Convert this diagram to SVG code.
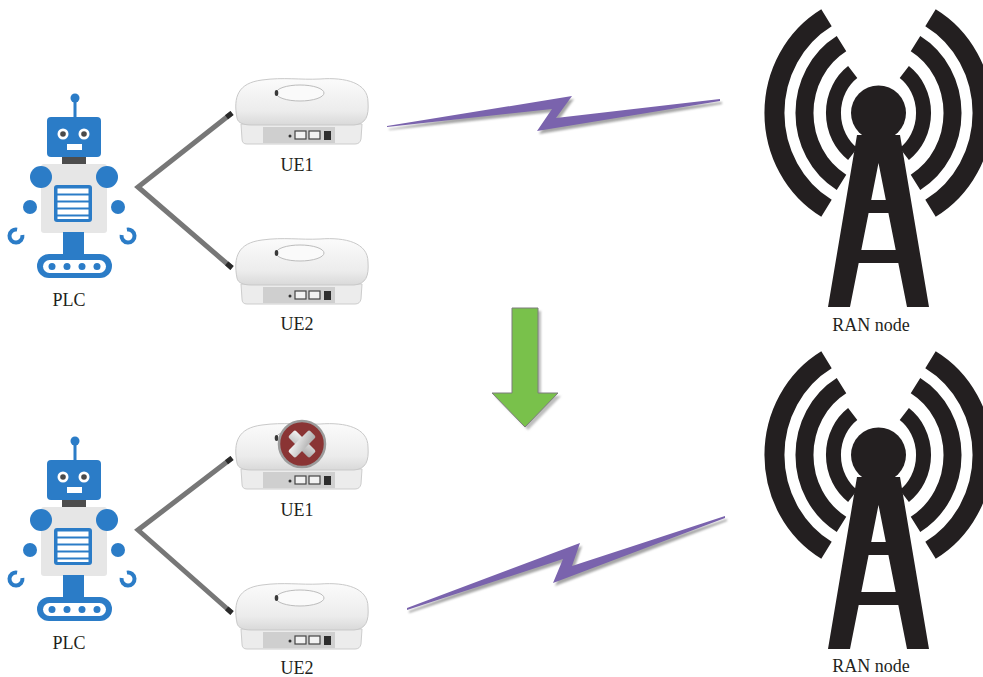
<svg xmlns="http://www.w3.org/2000/svg" width="983" height="677" viewBox="0 0 983 677">
  <style>
    .label { font-family: "Liberation Serif", "Times New Roman", serif; font-size: 18px; fill: #231f20; text-anchor: middle; }
    .blue { fill: #2b7cc7; }
    .hand { fill: none; stroke: #2b7cc7; stroke-width: 4; }
    .wire { fill: none; stroke: #777777; stroke-width: 5; stroke-linejoin: miter; }
    .wire-tip { stroke: #2a2a2a; stroke-width: 5; }
    .bolt { fill: #7a63ad; }
    .bolt-shadow { fill: #a6a6a6; filter: url(#soft); }
    .tower { fill: #231f20; }
    .wave { fill: none; stroke: #231f20; stroke-linecap: butt; }
  </style>
  <defs>
    <filter id="soft" x="-10%" y="-50%" width="120%" height="200%">
      <feGaussianBlur stdDeviation="1"/>
    </filter>
    <linearGradient id="shellGrad" x1="0" y1="0" x2="0" y2="1">
      <stop offset="0" stop-color="#fbfbfb"/>
      <stop offset="0.7" stop-color="#ececec"/>
      <stop offset="1" stop-color="#d9d9d9"/>
    </linearGradient>
    <linearGradient id="silver" x1="0" y1="0" x2="1" y2="1">
      <stop offset="0" stop-color="#f4f4f4"/>
      <stop offset="1" stop-color="#a9a9a9"/>
    </linearGradient>

    <!-- robot (PLC) drawn in the upper row's coordinates -->
    <g id="robot">
      <!-- antenna -->
      <rect class="blue" x="73.5" y="100" width="3" height="18"/>
      <circle class="blue" cx="75" cy="98" r="4.5"/>
      <!-- head -->
      <rect class="blue" x="47" y="117" width="54" height="40" rx="4"/>
      <circle cx="63" cy="134" r="5.5" fill="#ffffff"/>
      <circle cx="84" cy="134" r="5.5" fill="#ffffff"/>
      <circle cx="63" cy="134" r="2.8" fill="#4a4a4a"/>
      <circle cx="84" cy="134" r="2.8" fill="#4a4a4a"/>
      <rect x="67" y="144" width="15" height="6" fill="#ffffff"/>
      <!-- neck -->
      <rect x="62" y="157" width="24" height="8" fill="#4d4d4d"/>
      <!-- torso -->
      <rect x="41" y="164" width="66" height="69" rx="3" fill="#e6e6e6"/>
      <circle class="blue" cx="41" cy="177" r="11"/>
      <circle class="blue" cx="107" cy="177" r="11"/>
      <circle class="blue" cx="30" cy="207" r="7"/>
      <circle class="blue" cx="118" cy="207" r="7"/>
      <!-- hands: open rings facing inwards -->
      <path class="hand" d="M22.4,235 A6.5,6.5 0 1 1 17.1,229.6"/>
      <path class="hand" d="M121.6,235 A6.5,6.5 0 1 0 126.9,229.6"/>
      <!-- chest panel -->
      <rect class="blue" x="54" y="185" width="38" height="37" rx="3"/>
      <rect x="57.5" y="188.5" width="31" height="5" fill="#ffffff"/>
      <rect x="57.5" y="195.5" width="31" height="5" fill="#ffffff"/>
      <rect x="57.5" y="202.5" width="31" height="5" fill="#ffffff"/>
      <rect x="57.5" y="209.5" width="31" height="5" fill="#ffffff"/>
      <rect x="57.5" y="216.5" width="31" height="2.5" fill="#ffffff"/>
      <!-- leg and track -->
      <rect class="blue" x="63" y="232" width="21" height="24"/>
      <rect class="blue" x="37" y="254" width="75" height="24" rx="12"/>
      <rect x="43" y="260" width="63" height="13" rx="6.5" fill="#ffffff"/>
      <circle class="blue" cx="52" cy="266.5" r="3.5"/>
      <circle class="blue" cx="67" cy="266.5" r="3.5"/>
      <circle class="blue" cx="82" cy="266.5" r="3.5"/>
      <circle class="blue" cx="97" cy="266.5" r="3.5"/>
    </g>

    <!-- user equipment box, drawn at the upper UE1 position -->
    <g id="ue">
      <path d="M241,124 L362,124 L361,139 Q360,144 355,144 L247,144 Q242,144 242,139 Z" fill="#ececec" stroke="#cdcdcd" stroke-width="1"/>
      <rect x="263" y="127" width="72" height="16" fill="#cfcfcf"/>
      <circle cx="290" cy="136" r="1.5" fill="#333333"/>
      <rect x="295" y="131" width="11" height="8" fill="#f2f2f2" stroke="#444444" stroke-width="1.2"/>
      <rect x="309" y="131" width="11" height="8" fill="#f2f2f2" stroke="#444444" stroke-width="1.2"/>
      <rect x="324" y="131" width="7" height="9" fill="#2d2d2d"/>
      <path d="M237,118 C233,97 238,83 262,80 C284,77 300,80 320,79 C346,77 368,83 368,102 C369,116 366,124 354,125 L252,125 C243,125 238,123 237,118 Z" fill="url(#shellGrad)" stroke="#c9c9c9" stroke-width="1"/>
      <ellipse cx="300" cy="93" rx="24" ry="8" fill="#fafafa" stroke="#bcbcbc" stroke-width="1"/>
      <ellipse cx="276.5" cy="93" rx="1.8" ry="3" fill="#3a3a3a"/>
    </g>

    <!-- radio access node mast, upper-row coordinates -->
    <g id="mast">
      <path class="wave" stroke-width="20" d="M826.5,17.7 A104,110 0 0 0 826.5,208.3"/>
      <path class="wave" stroke-width="20" d="M930.5,17.7 A104,110 0 0 1 930.5,208.3"/>
      <path class="wave" stroke-width="18" d="M841.5,43.7 A74,80 0 0 0 841.5,182.3"/>
      <path class="wave" stroke-width="18" d="M915.5,43.7 A74,80 0 0 1 915.5,182.3"/>
      <path class="wave" stroke-width="15" d="M852.7,72 A45,50 0 0 0 852.7,154"/>
      <path class="wave" stroke-width="15" d="M904.3,72 A45,50 0 0 1 904.3,154"/>
      <circle class="tower" cx="878.5" cy="113" r="27.5"/>
      <path class="tower" d="M857,135 L900,135 L929,307 L907,307 L878.5,163 L850,307 L828,307 Z"/>
      <rect class="tower" x="852" y="200" width="53" height="13"/>
      <rect class="tower" x="845" y="250" width="67" height="13"/>
    </g>
  </defs>

  <rect width="983" height="677" fill="#ffffff"/>

  <!-- wired and radio links -->
  <g id="connectors">
    <polyline class="wire" points="232,113 138,187 232,268"/>
    <line class="wire-tip" x1="226.5" y1="117.3" x2="232" y2="113"/>
    <line class="wire-tip" x1="226.7" y1="263.4" x2="232" y2="268"/>
    <polyline class="wire" points="232,458 138,530 232,613"/>
    <line class="wire-tip" x1="226.5" y1="462.3" x2="232" y2="458"/>
    <line class="wire-tip" x1="226.7" y1="608.4" x2="232" y2="613"/>

    <g id="link-top">
      <polygon class="bolt-shadow" transform="translate(2,3)" points="387,126 572,96 556,118 720,99 720,101 537,131 552,109 387,127"/>
      <polygon class="bolt" points="387,126 572,96 556,118 720,99 720,101 537,131 552,109 387,127"/>
    </g>
    <g id="link-bottom">
      <polygon class="bolt-shadow" transform="translate(2,3)" points="407,608 580,543 572,566 725,516 725,518 553,583 563,559 407,610"/>
      <polygon class="bolt" points="407,608 580,543 572,566 725,516 725,518 553,583 563,559 407,610"/>
    </g>
  </g>

  <!-- transition arrow between the two states -->
  <g id="transition">
    <polygon points="512,308 538,308 538,393 558,393 525,427 492,393 512,393" fill="#bdbdbd" transform="translate(3,3)" filter="url(#soft)"/>
    <polygon points="512,308 538,308 538,393 558,393 525,427 492,393 512,393" fill="#79c14b" stroke="#7d7d7d" stroke-width="1"/>
  </g>

  <!-- upper row: both UEs active, UE1 linked -->
  <g id="plc-top">
    <use href="#robot"/>
    <text class="label" x="69" y="306">PLC</text>
  </g>
  <g id="ue1-top">
    <use href="#ue"/>
    <text class="label" x="297" y="171">UE1</text>
  </g>
  <g id="ue2-top">
    <use href="#ue" y="160"/>
    <text class="label" x="297" y="330">UE2</text>
  </g>
  <g id="ran-top">
    <use href="#mast"/>
    <text class="label" x="871" y="331">RAN node</text>
  </g>

  <!-- lower row: UE1 failed, UE2 takes over -->
  <g id="plc-bottom">
    <use href="#robot" y="343"/>
    <text class="label" x="69" y="649">PLC</text>
  </g>
  <g id="ue1-bottom">
    <use href="#ue" y="345"/>
    <g id="fail-badge">
      <circle cx="302" cy="444" r="23" fill="#8a3434" stroke="#9c9c9c" stroke-width="2.5"/>
      <rect x="287" y="439" width="30" height="10" rx="2" fill="url(#silver)" transform="rotate(45 302 444)"/>
      <rect x="287" y="439" width="30" height="10" rx="2" fill="url(#silver)" transform="rotate(-45 302 444)"/>
    </g>
    <text class="label" x="297" y="516">UE1</text>
  </g>
  <g id="ue2-bottom">
    <use href="#ue" y="505"/>
    <text class="label" x="297" y="674">UE2</text>
  </g>
  <g id="ran-bottom">
    <use href="#mast" y="342"/>
    <text class="label" x="871" y="672">RAN node</text>
  </g>
</svg>
